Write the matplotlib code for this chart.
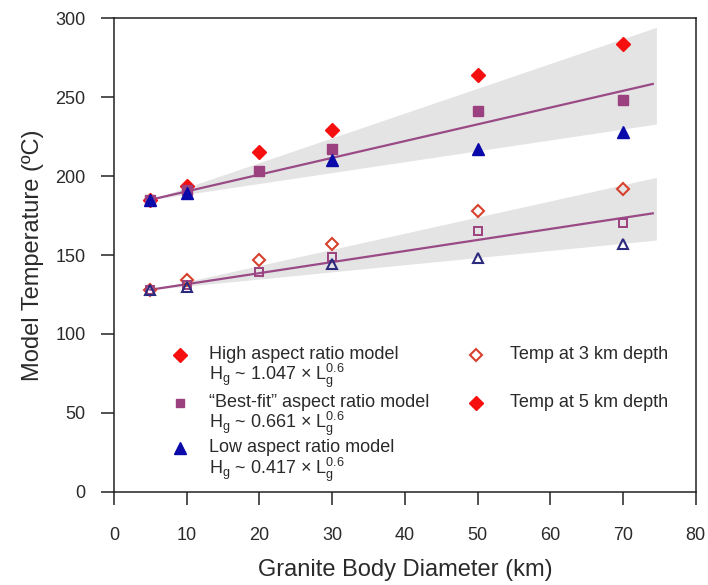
import numpy as np
import matplotlib
matplotlib.use("Agg")
import matplotlib.pyplot as plt
from matplotlib import font_manager

# ---- data -------------------------------------------------------------
diam_all = [5, 10, 20, 30, 50, 70]
diam_low = [5, 10, 30, 50, 70]

# temperature at 5 km depth (filled markers)
high_5km = [185, 194, 215, 229, 264, 284]
best_5km = [185, 191, 203, 217, 241, 248]
low_5km = [185, 189, 210, 217, 228]

# temperature at 3 km depth (open markers)
high_3km = [128, 134, 147, 157, 178, 192]
best_3km = [128, 131, 139, 149, 165, 170]
low_3km = [128, 130, 144, 148, 157]

# trend lines (best-fit model)
fit_x = [5, 74.1]
fit_5km = [185, 258.4]
fit_3km = [128, 176.4]

# spread between high and low aspect ratio models
band_x = [5, 74.6]
band_5km_lo = [185, 233]
band_5km_hi = [185, 294.3]
band_3km_lo = [128, 159.5]
band_3km_hi = [128, 199.2]

x_ticks = [0, 10, 20, 30, 40, 50, 60, 70, 80]
y_ticks = [0, 50, 100, 150, 200, 250, 300]

legend_models = [
    ("High aspect ratio model", "1.047"),
    ("\u201cBest-fit\u201d aspect ratio model", "0.661"),
    ("Low aspect ratio model", "0.417"),
]

# ---- style ------------------------------------------------------------
names = {f.name for f in font_manager.fontManager.ttflist}
family = "Liberation Sans Narrow" if "Liberation Sans Narrow" in names else "Liberation Sans"
plt.rcParams["font.family"] = [family, "DejaVu Sans"]
plt.rcParams["mathtext.fontset"] = "custom"
plt.rcParams["mathtext.rm"] = family
plt.rcParams["mathtext.it"] = family
plt.rcParams["mathtext.default"] = "regular"

RED = "#f50f0f"
PURPLE = "#9b417f"
BLUE = "#0a0aaa"
NAVY = "#2b2a7e"
ORANGE = "#d6402c"
LINE = "#9a4a86"
BAND = "#e4e4e4"
TXT = "#2a2a2a"

fig = plt.figure(figsize=(7.08, 5.85), dpi=100)
ax = fig.add_axes([0.161, 0.1595, 0.8216, 0.8092])

ax.fill_between(band_x, band_5km_lo, band_5km_hi, color=BAND, lw=0, zorder=1)
ax.fill_between(band_x, band_3km_lo, band_3km_hi, color=BAND, lw=0, zorder=1)
ax.plot(fit_x, fit_5km, color=LINE, lw=1.6, zorder=2)
ax.plot(fit_x, fit_3km, color=LINE, lw=1.6, zorder=2)

ms_d, ms_s, ms_t = 6.8, 7, 9
ax.plot(diam_all, high_5km, ls="none", marker="D", ms=ms_d, mfc=RED, mec=RED, zorder=3)
ax.plot(diam_all, best_5km, ls="none", marker="s", ms=ms_s, mfc=PURPLE, mec=PURPLE, zorder=4)
ax.plot(diam_low, low_5km, ls="none", marker="^", ms=ms_t, mfc=BLUE, mec=BLUE, zorder=5)

ax.plot(diam_all, high_3km, ls="none", marker="D", ms=6.2, mfc="none", mec=ORANGE, mew=1.5, zorder=3)
ax.plot(diam_all, best_3km, ls="none", marker="s", ms=6.2, mfc="none", mec=PURPLE, mew=1.4, zorder=4)
ax.plot(diam_low, low_3km, ls="none", marker="^", ms=7.8, mfc="none", mec=NAVY, mew=1.5, zorder=5)

ax.set_xlim(0, 80)
ax.set_ylim(0, 300)
ax.set_xticks(x_ticks)
ax.set_yticks(y_ticks)
ax.tick_params(direction="out", length=9.5, width=1.1, color="#222222",
               labelsize=13, labelcolor=TXT)
ax.tick_params(axis="x", pad=16)
ax.tick_params(axis="y", pad=11)
for sp in ax.spines.values():
    sp.set_linewidth(1.1)
    sp.set_color("#222222")

ax.set_xlabel("Granite Body Diameter (km)", fontsize=17, color=TXT, labelpad=11)
ax.set_ylabel("Model Temperature (\u00baC)", fontsize=17, color=TXT, labelpad=8)

# ---- legend (drawn by hand in axes coordinates) -------------------------
tr = ax.transAxes
def ax_y(py):
    return (491.7 - py) / 473.4

def ax_x(px):
    return (px - 114) / 581.7

LFS = 13
key_x = ax_x(180)
text_x = ax_x(209.5)
title_y = [355, 403, 448]
formula_y = [376, 424, 470]
keys = [dict(marker="D", ms=ms_d, mfc=RED, mec=RED),
        dict(marker="s", ms=6, mfc=PURPLE, mec=PURPLE),
        dict(marker="^", ms=8, mfc=BLUE, mec=BLUE)]
for (title, coef), ty, fy, k in zip(legend_models, title_y, formula_y, keys):
    ax.plot([key_x], [ax_y(ty)], transform=tr, ls="none", clip_on=False, **k)
    ax.text(text_x, ax_y(ty), title, transform=tr, fontsize=LFS, color=TXT,
            va="center", ha="left")
    ax.text(text_x, ax_y(fy), r"H$_{g}$ ~ " + coef + r" $\times$ L$_{g}^{0.6}$",
            transform=tr, fontsize=LFS, color=TXT, va="center", ha="left")

key2_x = ax_x(476)
text2_x = ax_x(510)
ax.plot([key2_x], [ax_y(355)], transform=tr, ls="none", marker="D", ms=6.2,
        mfc="none", mec=ORANGE, mew=1.5)
ax.text(text2_x, ax_y(355), "Temp at 3 km depth", transform=tr, fontsize=LFS,
        color=TXT, va="center", ha="left")
ax.plot([key2_x], [ax_y(403)], transform=tr, ls="none", marker="D", ms=ms_d,
        mfc=RED, mec=RED)
ax.text(text2_x, ax_y(403), "Temp at 5 km depth", transform=tr, fontsize=LFS,
        color=TXT, va="center", ha="left")

fig.savefig("out.png", dpi=100)
